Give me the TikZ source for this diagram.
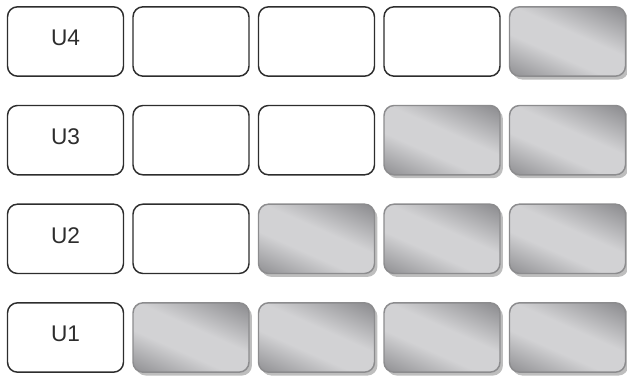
\documentclass[tikz,border=0pt]{standalone}
\usepackage{fontspec}
\setmainfont{Liberation Sans}
\definecolor{cellInk}{RGB}{45,45,45}
\definecolor{cellRim}{RGB}{140,140,142}
\definecolor{cellDeep}{RGB}{118,118,121}
\definecolor{cellDark}{RGB}{146,146,149}
\definecolor{cellLight}{RGB}{210,210,212}
\definecolor{cellShade}{RGB}{190,190,190}
\pgfdeclareverticalshading{cellglow}{100bp}{color(0bp)=(cellDeep); color(18bp)=(cellDark);
  color(40bp)=(cellLight); color(56bp)=(cellLight); color(80bp)=(cellDark); color(100bp)=(cellDeep)}

\begin{document}
\begin{tikzpicture}[x=0.75pt,y=0.75pt]
\tikzset{
cell/.style={rounded corners=7.5pt,minimum width=87pt,minimum height=52pt,inner sep=0pt,line width=1.1pt},
plain/.style={cell,draw=cellInk,fill=white},
filled/.style={cell,draw=cellRim,shading=cellglow,shading angle=-24},
shadowbox/.style={cell,fill=cellShade},
unit/.style={font=\fontsize{17}{20}\selectfont,text=cellInk}
}
\useasboundingbox (0,0) rectangle (627,376);

\foreach \r in {1,...,4}{
  \foreach \c in {1,...,5}{
    \pgfmathsetmacro\cx{65.5+125.5*(\c-1)}
    \pgfmathsetmacro\cy{38.5+98.67*(\r-1)}
    \ifnum\c>\r
      \node[shadowbox] (s\r-\c) at (\cx+2.9,\cy-3.4) {};
      \node[filled] (u\r-\c) at (\cx,\cy) {};
    \else
      \node[plain] (u\r-\c) at (\cx,\cy) {};
    \fi
  }
  \node[unit,yshift=2.5pt] (lab\r) at (u\r-1) {U\r};
}
\end{tikzpicture}
\end{document}
